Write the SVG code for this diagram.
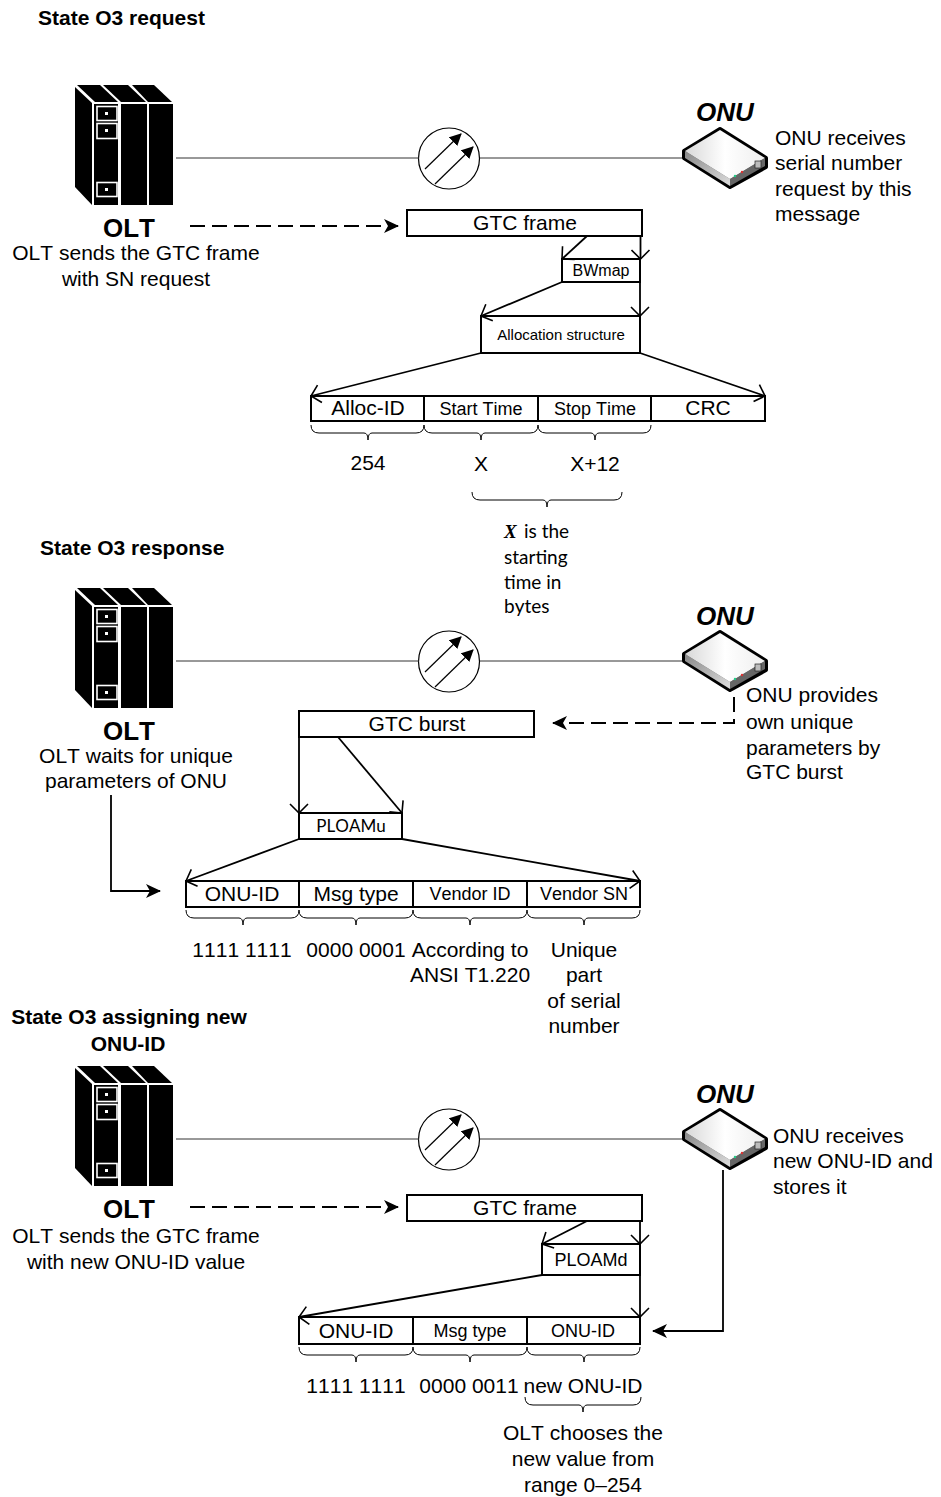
<svg xmlns="http://www.w3.org/2000/svg" width="941" height="1497" viewBox="0 0 941 1497">
<style>
text{font-family:"Liberation Sans",Arial,sans-serif;fill:#000;font-kerning:none}
.t{font-size:21px;font-weight:bold}
.b{font-size:21px}
.m{font-size:18px}
.c{text-anchor:middle}
.big{font-size:26px;font-weight:bold}
.box{fill:#fff;stroke:#000;stroke-width:2}
.ln{fill:none;stroke:#000;stroke-width:1.8;marker-end:url(#open)}
.br{fill:none;stroke:#000;stroke-width:1}
.wire{fill:none;stroke:#333;stroke-width:1}
.da{fill:none;stroke:#000;stroke-width:2;stroke-dasharray:15 7;marker-end:url(#solid)}
.so{fill:none;stroke:#000;stroke-width:1.8;marker-end:url(#solid)}
.w{fill:none;stroke:#fff;stroke-width:1.6}
.lato{font-family:Lato,sans-serif}
</style>
<defs>
<marker id="open" viewBox="0 0 12 20" refX="11" refY="10" markerWidth="12" markerHeight="20" markerUnits="userSpaceOnUse" orient="auto"><path d="M2 1L11 10L2 19" fill="none" stroke="#000" stroke-width="1.6"/></marker>
<marker id="solid" viewBox="0 0 15 14" refX="14" refY="7" markerWidth="15" markerHeight="14" markerUnits="userSpaceOnUse" orient="auto"><path d="M0 0L15 7L0 14L4 7Z" fill="#000"/></marker>
<marker id="tri" viewBox="0 0 12 12" refX="11" refY="6" markerWidth="12" markerHeight="12" markerUnits="userSpaceOnUse" orient="auto"><path d="M0 0L12 6L0 12Z" fill="#000"/></marker>
<linearGradient id="g" x1="0" y1="0" x2="1" y2="0"><stop offset="0" stop-color="#d8d8d8"/><stop offset="0.5" stop-color="#fff"/><stop offset="1" stop-color="#eee"/></linearGradient>
<linearGradient id="g2" x1="0" y1="0" x2="1" y2="1"><stop offset="0" stop-color="#888"/><stop offset="1" stop-color="#ddd"/></linearGradient>
<g id="olt">
<path d="M75 87L92 103V205L75 187Z" fill="#000"/>
<path d="M77 85H100L118 102H95Z" fill="#000"/>
<path d="M103 85H128L146 102H121Z" fill="#000"/>
<path d="M132 85H154L172 102H148Z" fill="#000"/>
<rect x="94" y="104" width="24" height="101" fill="#000"/>
<rect x="121" y="104" width="26" height="101" fill="#000"/>
<rect x="149" y="104" width="24" height="101" fill="#000"/>
<rect x="97" y="106.500" width="20" height="14" class="w"/>
<rect x="97" y="123.500" width="20" height="15" class="w"/>
<rect x="97" y="182.500" width="20" height="14" class="w"/>
<rect x="105" y="112" width="3" height="3" fill="#fff"/>
<rect x="105" y="129" width="3" height="3" fill="#fff"/>
<rect x="105" y="188" width="3" height="3" fill="#fff"/>
</g>
<g id="onu">
<path d="M684 151L720 129L766 158V167L730 187L684 158Z" fill="#777" stroke="#000" stroke-width="4" stroke-linejoin="round"/>
<path d="M685 151L720 130L765 158L730 179Z" fill="url(#g)"/>
<path d="M685 151V158L730 186V179Z" fill="url(#g2)"/>
<path d="M730 179L765 158V166L730 186Z" fill="#666"/>
<rect x="755" y="161" width="6" height="7" fill="#bbb" stroke="#222" stroke-width="0.700"/>
<circle cx="735" cy="176" r="1.200" fill="#2c8"/><circle cx="742" cy="172" r="1.200" fill="#d33"/>
</g>
<g id="splitter">
<circle cx="449" cy="158.500" r="30.500" fill="#fff" stroke="#000" stroke-width="1.200"/>
<path d="M425 169L461 134" fill="none" stroke="#000" stroke-width="1.200" marker-end="url(#tri)"/>
<path d="M435 184L473 147" fill="none" stroke="#000" stroke-width="1.200" marker-end="url(#tri)"/>
</g>
</defs>

<g id="title1"><text class="t" x="38" y="25">State O3 request</text></g>
<g id="olt1"><use href="#olt"/><text class="big c" x="129" y="237">OLT</text><text class="b c" x="136" y="260">OLT sends the GTC frame</text><text class="b c" x="136" y="286">with SN request</text></g>
<g id="splitter1"><use href="#splitter"/></g>
<g id="onu1"><use href="#onu"/><text class="big c" x="725" y="121" font-style="italic">ONU</text><text class="b" x="775" y="145">ONU receives</text><text class="b" x="775" y="170">serial number</text><text class="b" x="775" y="196">request by this</text><text class="b" x="775" y="221">message</text></g>
<g id="gtc1"><rect class="box" x="407" y="210" width="235" height="26"/><text class="b c" x="525" y="230">GTC frame</text></g>
<g id="bwmap"><rect class="box" x="562" y="259" width="78" height="23"/><text class="c" font-size="16" x="601" y="276">BWmap</text></g>
<g id="alloc"><rect class="box" x="481" y="316" width="159" height="37"/><text class="c" font-size="15" x="561" y="340">Allocation structure</text></g>
<g id="row1"><rect class="box" x="311" y="396" width="113" height="25"/><rect class="box" x="424" y="396" width="114" height="25"/><rect class="box" x="538" y="396" width="113" height="25"/><rect class="box" x="651" y="396" width="114" height="25"/>
<text class="b c" x="368" y="415">Alloc-ID</text><text class="m c" x="481" y="415">Start Time</text><text class="m c" x="595" y="415">Stop Time</text><text class="b c" x="708" y="415">CRC</text></g>
<g id="vals1"><text class="b c" x="368" y="470">254</text><text class="b c" x="481" y="471">X</text><text class="b c" x="595" y="471">X+12</text></g>
<g id="note1"><text font-size="19" x="504" y="538" style="font-family:'Liberation Serif',serif" font-weight="bold" font-style="italic">X</text><text font-size="19" x="524" y="538" class="lato">is the</text><text font-size="19" x="504" y="564" class="lato">starting</text><text font-size="19" x="504" y="589" class="lato">time in</text><text font-size="19" x="504" y="613" class="lato">bytes</text></g>

<g id="title2"><text class="t" x="40" y="555">State O3 response</text></g>
<g id="olt2"><use href="#olt" y="503"/><text class="big c" x="129" y="740">OLT</text><text class="b c" x="136" y="763">OLT waits for unique</text><text class="b c" x="136" y="788">parameters of ONU</text></g>
<g id="splitter2"><use href="#splitter" y="503"/></g>
<g id="onu2"><use href="#onu" y="503"/><text class="big c" x="725" y="625" font-style="italic">ONU</text><text class="b" x="746" y="702">ONU provides</text><text class="b" x="746" y="729">own unique</text><text class="b" x="746" y="755">parameters by</text><text class="b" x="746" y="779">GTC burst</text></g>
<g id="burst"><rect class="box" x="299" y="711" width="235" height="26"/><text class="b c" x="417" y="731">GTC burst</text></g>
<g id="ploamu"><rect class="box" x="299" y="813" width="103" height="26"/><text class="c lato" font-size="17" x="351" y="832">PLOAMu</text></g>
<g id="row2"><rect class="box" x="186" y="881" width="113" height="26"/><rect class="box" x="299" y="881" width="114" height="26"/><rect class="box" x="413" y="881" width="114" height="26"/><rect class="box" x="527" y="881" width="113" height="26"/>
<text class="b c" x="242" y="901">ONU-ID</text><text class="b c" x="356" y="901">Msg type</text><text class="m c" x="470" y="900">Vendor ID</text><text class="m c" x="584" y="900">Vendor SN</text></g>
<g id="vals2"><text class="b c" x="242" y="957">1111 1111</text><text class="b c" x="356" y="957">0000 0001</text><text class="b c" x="470" y="957">According to</text><text class="b c" x="470" y="982">ANSI T1.220</text><text class="b c" x="584" y="957">Unique</text><text class="b c" x="584" y="982">part</text><text class="b c" x="584" y="1008">of serial</text><text class="b c" x="584" y="1033">number</text></g>

<g id="title3"><text class="t c" x="129" y="1024">State O3 assigning new</text><text class="t c" x="128" y="1051">ONU-ID</text></g>
<g id="olt3"><use href="#olt" y="981"/><text class="big c" x="129" y="1218">OLT</text><text class="b c" x="136" y="1243">OLT sends the GTC frame</text><text class="b c" x="136" y="1269">with new ONU-ID value</text></g>
<g id="splitter3"><use href="#splitter" y="981"/></g>
<g id="onu3"><use href="#onu" y="981"/><text class="big c" x="725" y="1103" font-style="italic">ONU</text><text class="b" x="773" y="1143">ONU receives</text><text class="b" x="773" y="1168">new ONU-ID and</text><text class="b" x="773" y="1194">stores it</text></g>
<g id="gtc3"><rect class="box" x="407" y="1195" width="235" height="26"/><text class="b c" x="525" y="1215">GTC frame</text></g>
<g id="ploamd"><rect class="box" x="542" y="1244" width="98" height="31"/><text class="c" font-size="18" x="591" y="1266">PLOAMd</text></g>
<g id="row3"><rect class="box" x="299" y="1317" width="114" height="27"/><rect class="box" x="413" y="1317" width="114" height="27"/><rect class="box" x="527" y="1317" width="113" height="27"/>
<text class="b c" x="356" y="1338">ONU-ID</text><text class="m c" x="470" y="1337">Msg type</text><text class="m c" x="583" y="1337">ONU-ID</text></g>
<g id="vals3"><text class="b c" x="356" y="1393">1111 1111</text><text class="b c" x="469" y="1393">0000 0011</text><text class="b c" x="583" y="1393">new ONU-ID</text></g>
<g id="note3"><text class="b c" x="583" y="1440">OLT chooses the</text><text class="b c" x="583" y="1466">new value from</text><text class="b c" x="583" y="1492">range 0–254</text></g>

<g id="connectors">
<path class="wire" d="M176 158H419M480 158H682"/>
<path class="wire" d="M176 661H419M480 661H682"/>
<path class="wire" d="M176 1139H419M480 1139H682"/>
<path class="da" d="M190 226H398"/>
<path class="ln" d="M587 236L562 259"/>
<path class="ln" d="M640.500 236V259"/>
<path class="ln" d="M562 282L481 316"/>
<path class="ln" d="M640 282V316"/>
<path class="ln" d="M481 353L311 396"/>
<path class="ln" d="M640 353L765 396"/>
<path class="da" d="M734 697V723H553"/>
<path class="ln" d="M299 737V813"/>
<path class="ln" d="M338 737L402 813"/>
<path class="ln" d="M299 839L186 881"/>
<path class="ln" d="M402 839L640 881"/>
<path class="so" d="M111 795V891H160"/>
<path class="da" d="M190 1207H398"/>
<path class="ln" d="M587 1221L542 1244"/>
<path class="ln" d="M640 1221V1244"/>
<path class="ln" d="M542 1275L299 1317"/>
<path class="ln" d="M640 1275V1317"/>
<path class="so" d="M723 1170V1331H653"/>
<path class="br" d="M311 425q0 8 8 8H364q4 0 4 7q0-7 4-7H416q8 0 8-8M424 425q0 8 8 8H477q4 0 4 7q0-7 4-7H530q8 0 8-8M538 425q0 8 8 8H591q4 0 4 7q0-7 4-7H643q8 0 8-8M472 492q0 8 8 8H543q4 0 4 7q0-7 4-7H614q8 0 8-8"/>
<path class="br" d="M186 910q0 8 8 8H239q4 0 4 7q0-7 4-7H291q8 0 8-8M299 910q0 8 8 8H352q4 0 4 7q0-7 4-7H405q8 0 8-8M413 910q0 8 8 8H466q4 0 4 7q0-7 4-7H519q8 0 8-8M527 910q0 8 8 8H580q4 0 4 7q0-7 4-7H632q8 0 8-8"/>
<path class="br" d="M299 1347q0 8 8 8H352q4 0 4 7q0-7 4-7H405q8 0 8-8M413 1347q0 8 8 8H466q4 0 4 7q0-7 4-7H519q8 0 8-8M527 1347q0 8 8 8H580q4 0 4 7q0-7 4-7H632q8 0 8-8M525 1397q0 8 8 8H579q4 0 4 7q0-7 4-7H633q8 0 8-8"/>
</g>
</svg>
